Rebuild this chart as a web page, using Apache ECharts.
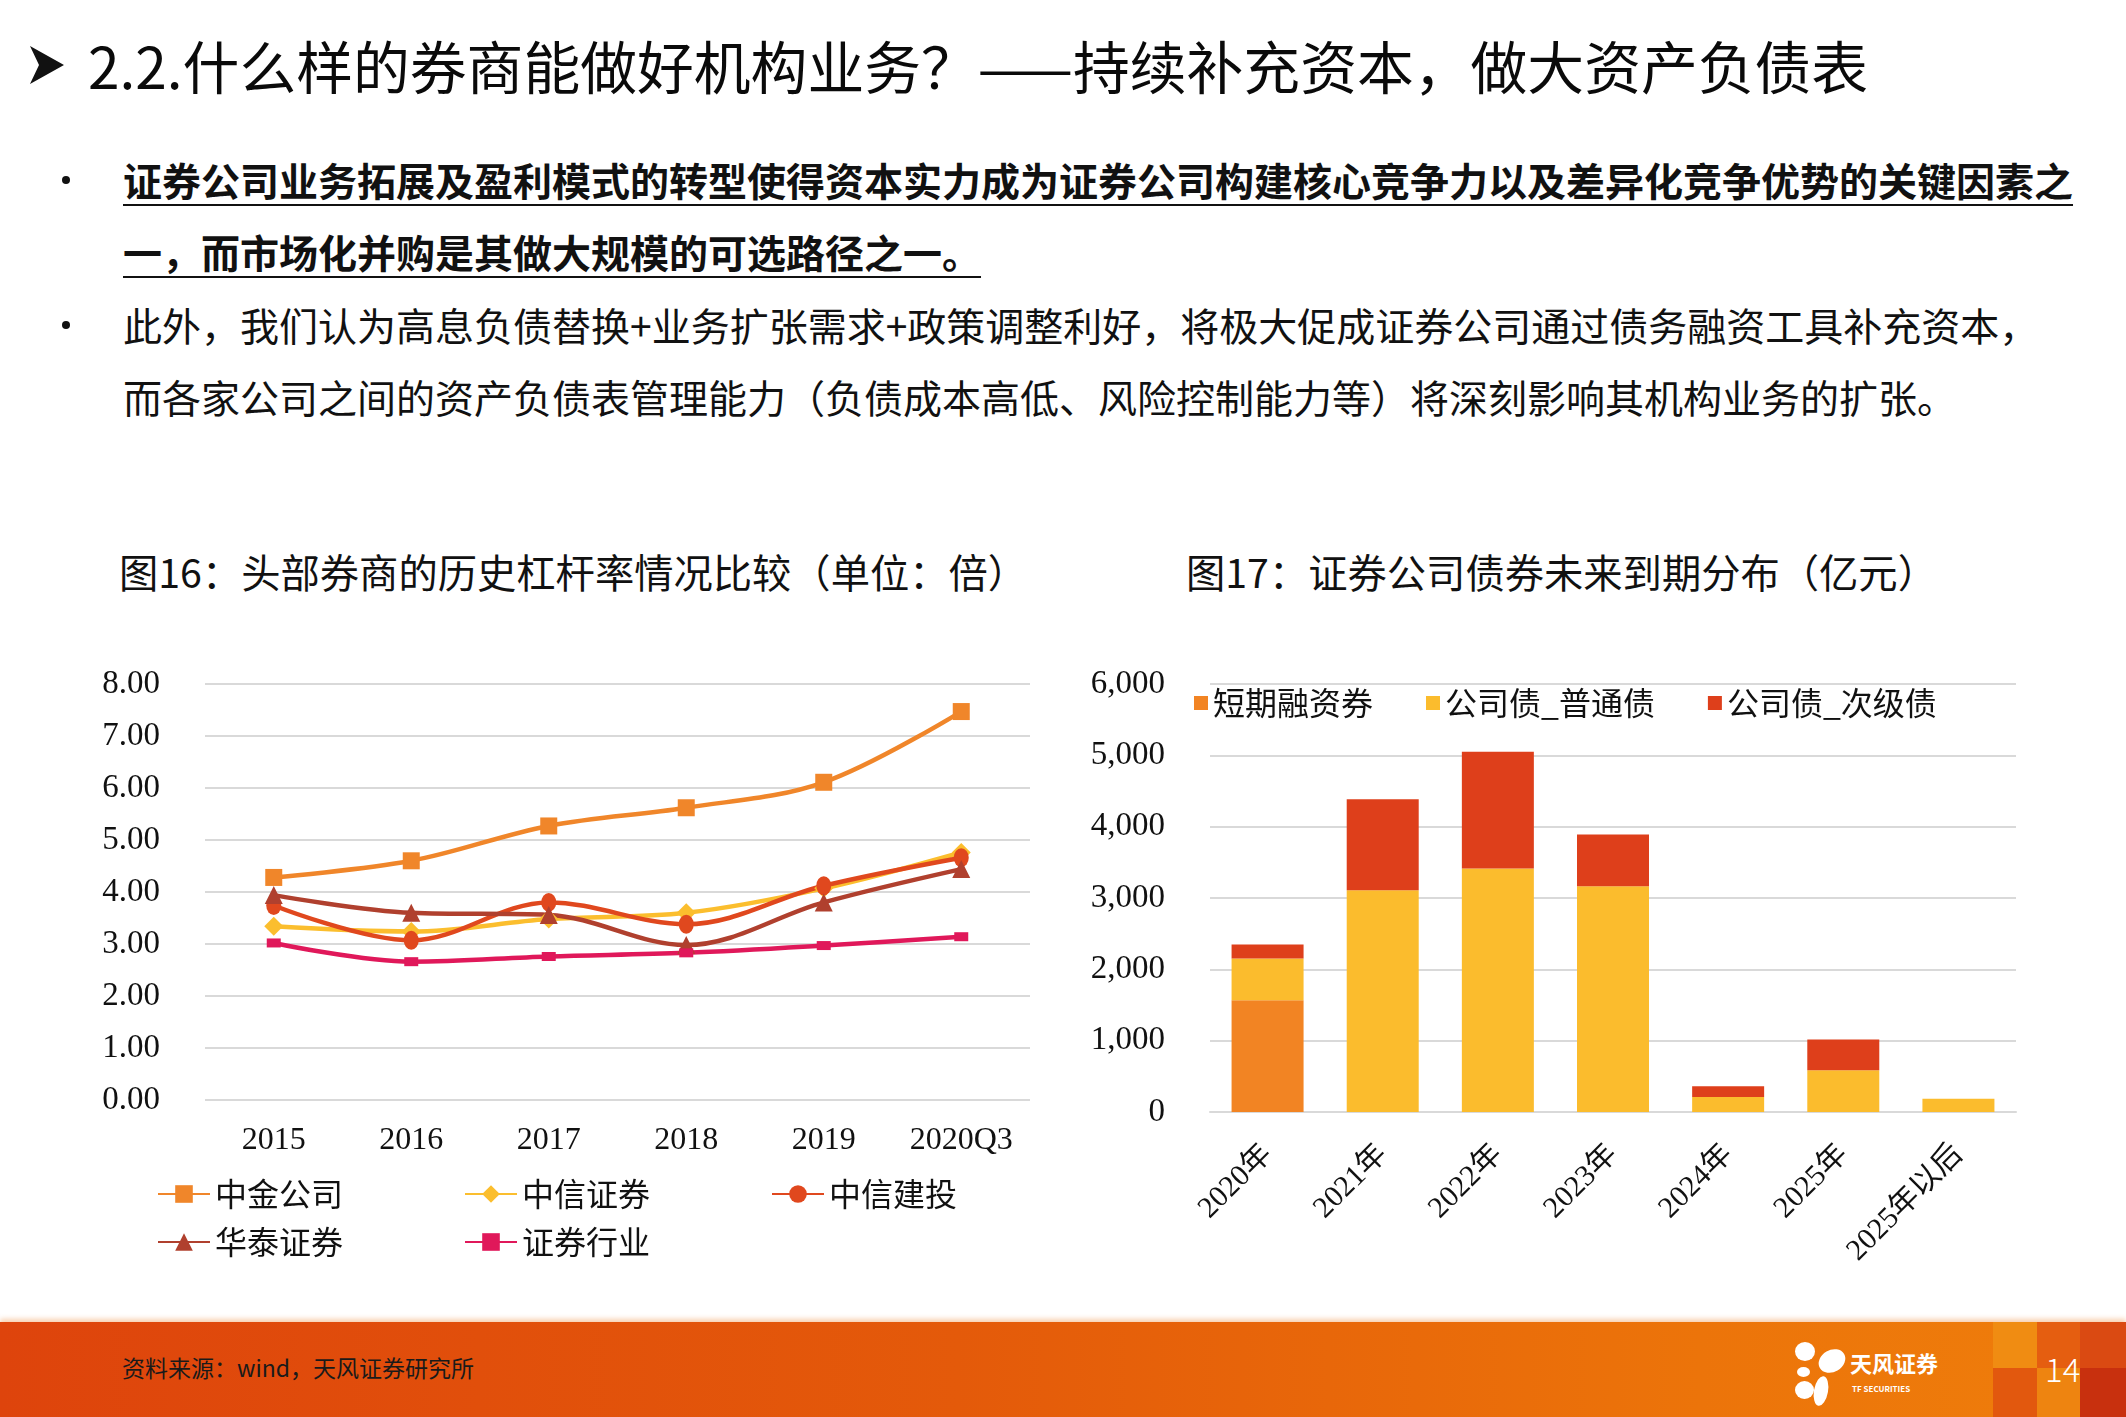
<!DOCTYPE html>
<html>
<head>
<meta charset="utf-8">
<script src="https://cdn.jsdelivr.net/npm/echarts@6/dist/echarts.min.js"></script>
<style>
  html, body { margin:0; padding:0; background:#fff; }
  body { width:2126px; height:1417px; position:relative; overflow:hidden; font-family:"Noto Sans CJK SC","Noto Sans",sans-serif; color:#000; }
  .abs { position:absolute; white-space:nowrap; }
  #chart { position:absolute; left:0; top:0; width:2126px; height:1417px; z-index:1; }
  .title { left:88px; top:32px; font-size:56.8px; line-height:64px; color:#0a0a0a; }
  .arrow { left:28px; top:44px; width:0; height:0; }
  .bullets { left:123px; top:143px; line-height:72.4px; font-size:39px; color:#111; }
  .bullets .u { font-weight:bold; font-size:39px; text-decoration:underline; text-decoration-thickness:2px; text-underline-offset:8px; }
  .dot { position:absolute; left:62px; width:8px; height:8px; border-radius:50%; background:#111; }
  .sub { top:547px; font-size:39.3px; line-height:48px; color:#111; }
  #footer { position:absolute; left:0; top:1322px; width:2126px; height:95px; background:linear-gradient(90deg,#DE440C 0%,#E45A0A 45%,#EC740A 80%,#EF7E0B 100%); box-shadow:0 -3px 5px rgba(240,150,80,0.45); }
  .foot-src { left:122px; top:1352px; font-size:23px; line-height:30px; color:#1a1a1a; }
  .blk { position:absolute; }
  .petal { position:absolute; background:#fff; border-radius:50%; }
</style>
</head>
<body>
<div class="abs arrow"><svg width="38" height="42"><polygon points="2,2 36,21 2,40 11,21" fill="#111"/></svg></div>
<div class="abs title">2.2.什么样的券商能做好机构业务？——持续补充资本，做大资产负债表</div>

<div class="dot" style="top:176px;"></div>
<div class="dot" style="top:321px;"></div>
<div class="abs bullets"><span class="u">证券公司业务拓展及盈利模式的转型使得资本实力成为证券公司构建核心竞争力以及差异化竞争优势的关键因素之<br>一，而市场化并购是其做大规模的可选路径之一。</span><br>此外，我们认为高息负债替换+业务扩张需求+政策调整利好，将极大促成证券公司通过债务融资工具补充资本，<br>而各家公司之间的资产负债表管理能力（负债成本高低、风险控制能力等）将深刻影响其机构业务的扩张。</div>

<div class="abs sub" style="left:119px;">图16：头部券商的历史杠杆率情况比较（单位：倍）</div>
<div class="abs sub" style="left:1186px;">图17：证券公司债券未来到期分布（亿元）</div>

<div id="footer">
  <div class="blk" style="left:1993px;top:0;width:44px;height:46px;background:#F08C12;"></div>
  <div class="blk" style="left:1993px;top:46px;width:44px;height:49px;background:#E2580E;"></div>
  <div class="blk" style="left:2037px;top:0;width:43px;height:46px;background:#E55E10;"></div>
  <div class="blk" style="left:2037px;top:46px;width:43px;height:49px;background:#EE8410;"></div>
  <div class="blk" style="left:2080px;top:0;width:46px;height:46px;background:#DA4A12;"></div>
  <div class="blk" style="left:2080px;top:46px;width:46px;height:49px;background:#C8300E;"></div>
  <div class="petal" style="left:1795px;top:20px;width:20px;height:19px;"></div>
  <div class="petal" style="left:1818px;top:28px;width:28px;height:22px;transform:rotate(-30deg);"></div>
  <div class="petal" style="left:1797px;top:45px;width:13px;height:10px;"></div>
  <div class="petal" style="left:1795px;top:59px;width:19px;height:18px;"></div>
  <div class="petal" style="left:1814px;top:54px;width:14px;height:30px;transform:rotate(10deg);"></div>
  <div class="abs" style="left:1850px;top:27px;font-size:22px;line-height:26px;color:#fff;font-weight:bold;">天风证券</div>
  <div class="abs" style="left:1852px;top:62px;font-size:8px;line-height:9px;color:#fff;font-weight:bold;">TF SECURITIES</div>
  <div class="abs" style="left:2045px;top:26px;font-size:33px;line-height:40px;color:#fff;font-weight:300;">14</div>
</div>
<div class="abs foot-src">资料来源：wind，天风证券研究所</div>

<div id="chart"></div>
<script>
// ---- Figure 16: leverage ratio (times) ----
const years = ['2015', '2016', '2017', '2018', '2019', '2020Q3'];
const cicc = [4.28, 4.60, 5.27, 5.62, 6.11, 7.47];       // 中金公司
const citic = [3.34, 3.24, 3.48, 3.60, 4.07, 4.76];      // 中信证券
const csc = [3.74, 3.07, 3.80, 3.38, 4.12, 4.66];        // 中信建投
const htsc = [3.94, 3.60, 3.56, 2.98, 3.80, 4.44];       // 华泰证券
const industry = [3.02, 2.66, 2.76, 2.83, 2.97, 3.14];   // 证券行业
const lineNames = ['中金公司', '中信证券', '中信建投', '华泰证券', '证券行业'];

// ---- Figure 17: bond maturity distribution (100m CNY) ----
const periods = ['2020年', '2021年', '2022年', '2023年', '2024年', '2025年', '2025年以后'];
const shortTerm = [1567, 0, 0, 0, 0, 0, 0];                   // 短期融资券
const ordinaryBond = [584, 3110, 3414, 3166, 210, 585, 187];  // 公司债_普通债
const subBond = [197, 1273, 1637, 725, 150, 430, 0];          // 公司债_次级债
const barNames = ['短期融资券', '公司债_普通债', '公司债_次级债'];

const numFont = '"Liberation Serif","Noto Sans CJK SC",serif';
const cjkFont = '"Noto Sans CJK SC","Noto Sans",sans-serif';

const lineColors = ['#F0862A', '#FBBE2E', '#E0481E', '#B0402E', '#E0185A'];
const lineSymbols = ['rect', 'diamond', 'circle', 'triangle', 'rect'];
const lineSymbolSizes = [17, 19, [15, 19], 18, [14, 9]];
const lineData = [cicc, citic, csc, htsc, industry];

const chart = echarts.init(document.getElementById('chart'), null, { renderer: 'canvas' });

const series = lineData.map((d, i) => ({
  name: lineNames[i],
  type: 'line',
  xAxisIndex: 0, yAxisIndex: 0,
  data: d,
  smooth: 0.35,
  symbol: lineSymbols[i],
  symbolSize: lineSymbolSizes[i],
  showAllSymbol: true,
  lineStyle: { width: 4.5, color: lineColors[i] },
  itemStyle: { color: lineColors[i] },
  emphasis: { disabled: true },
  animation: false
}));

const barColors = ['#F28423', '#FBBC2D', '#DE3F1B'];
[shortTerm, ordinaryBond, subBond].forEach((d, i) => {
  series.push({
    name: barNames[i],
    type: 'bar',
    stack: 'total',
    xAxisIndex: 1, yAxisIndex: 1,
    data: d,
    barWidth: 72,
    itemStyle: { color: barColors[i] },
    emphasis: { disabled: true },
    animation: false
  });
});

const legendText = { fontSize: 32, fontFamily: cjkFont, color: '#111' };

chart.setOption({
  animation: false,
  backgroundColor: 'transparent',
  grid: [
    { left: 205, top: 684, width: 825, height: 416 },
    { left: 1210, top: 684, width: 806, height: 428 }
  ],
  legend: [
    { data: lineNames.slice(0, 3), left: 152, top: 1173, orient: 'horizontal', itemWidth: 52, itemHeight: 22, itemGap: 121, textStyle: legendText, selectedMode: false },
    { data: lineNames.slice(3), left: 152, top: 1221, orient: 'horizontal', itemWidth: 52, itemHeight: 22, itemGap: 121, textStyle: legendText, selectedMode: false },
    { data: barNames, left: 1189, top: 682, icon: 'rect', itemWidth: 14, itemHeight: 14, itemGap: 53, textStyle: legendText, selectedMode: false }
  ],
  xAxis: [
    { type: 'category', gridIndex: 0, data: years, boundaryGap: true,
      axisLine: { show: false }, axisTick: { show: false },
      axisLabel: { fontSize: 32, fontFamily: numFont, color: '#111', margin: 25 } },
    { type: 'category', gridIndex: 1, data: periods, boundaryGap: true,
      axisLine: { show: true, lineStyle: { color: '#D9D9D9', width: 2 } }, axisTick: { show: false },
      axisLabel: { fontSize: 30, fontFamily: numFont, color: '#111', rotate: 45, margin: 38, interval: 0 } }
  ],
  yAxis: [
    { type: 'value', gridIndex: 0, min: 0, max: 8, interval: 1,
      axisLine: { show: false }, axisTick: { show: false },
      splitLine: { lineStyle: { color: '#D9D9D9', width: 2 } },
      axisLabel: { fontSize: 33, fontFamily: numFont, color: '#111', margin: 45, formatter: v => v.toFixed(2) } },
    { type: 'value', gridIndex: 1, min: 0, max: 6000, interval: 1000,
      axisLine: { show: false }, axisTick: { show: false },
      splitLine: { lineStyle: { color: '#D9D9D9', width: 2 } },
      axisLabel: { fontSize: 33, fontFamily: numFont, color: '#111', margin: 45,
        formatter: v => v.toLocaleString('en-US') } }
  ],
  series: series
});
</script>
</body>
</html>
